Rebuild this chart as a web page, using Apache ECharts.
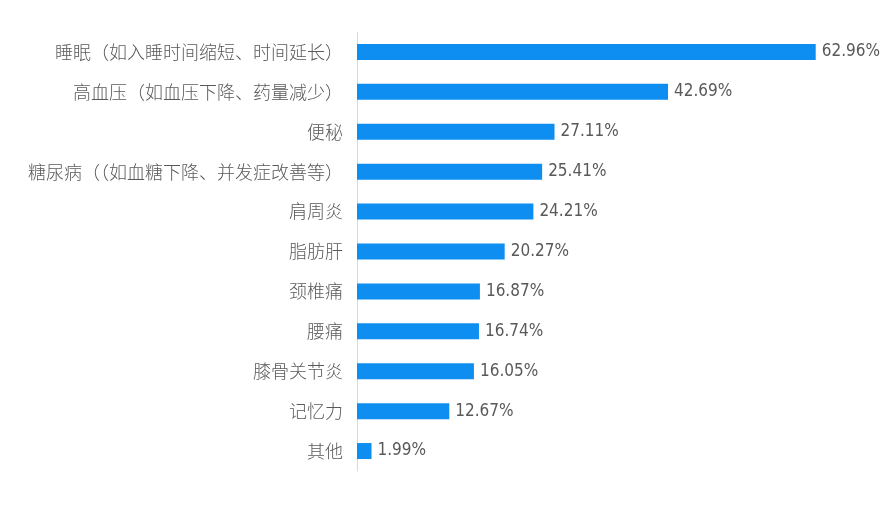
<!DOCTYPE html>
<html><head><meta charset="utf-8">
<script src="https://cdn.jsdelivr.net/npm/echarts@6/dist/echarts.min.js"></script>
<style>html,body{margin:0;padding:0;background:#fff}#c{width:891px;height:505px}</style>
</head><body><div id="c"></div>
<script>
const categories = ['睡眠（如入睡时间缩短、时间延长）','高血压（如血压下降、药量减少）','便秘','糖尿病（（如血糖下降、并发症改善等）','肩周炎','脂肪肝','颈椎痛','腰痛','膝骨关节炎','记忆力','其他'];
const values = [62.96,42.69,27.11,25.41,24.21,20.27,16.87,16.74,16.05,12.67,1.99];

const chart = echarts.init(document.getElementById('c'));
chart.setOption({
  animation:false,
  grid:{left:357,top:32,width:510,bottom:34,containLabel:false},
  xAxis:{type:'value',min:0,max:70,show:false},
  yAxis:{type:'category',data:categories,inverse:true,
    axisLine:{show:true,lineStyle:{color:'#d9d9d9',width:1}},
    axisTick:{show:false},
    axisLabel:{color:'#595959',fontSize:18,margin:14,fontWeight:300,fontFamily:'"Noto Sans CJK SC", sans-serif'}},
  series:[{type:'bar',data:values,barWidth:16,itemStyle:{color:'#0E8EF0'},
    label:{show:true,position:'right',distance:6,color:'#595959',fontSize:17,
      fontFamily:'"DejaVu Sans Condensed", sans-serif',
      formatter:p=>p.value.toFixed(2)+'%'}}]
});
</script></body></html>
